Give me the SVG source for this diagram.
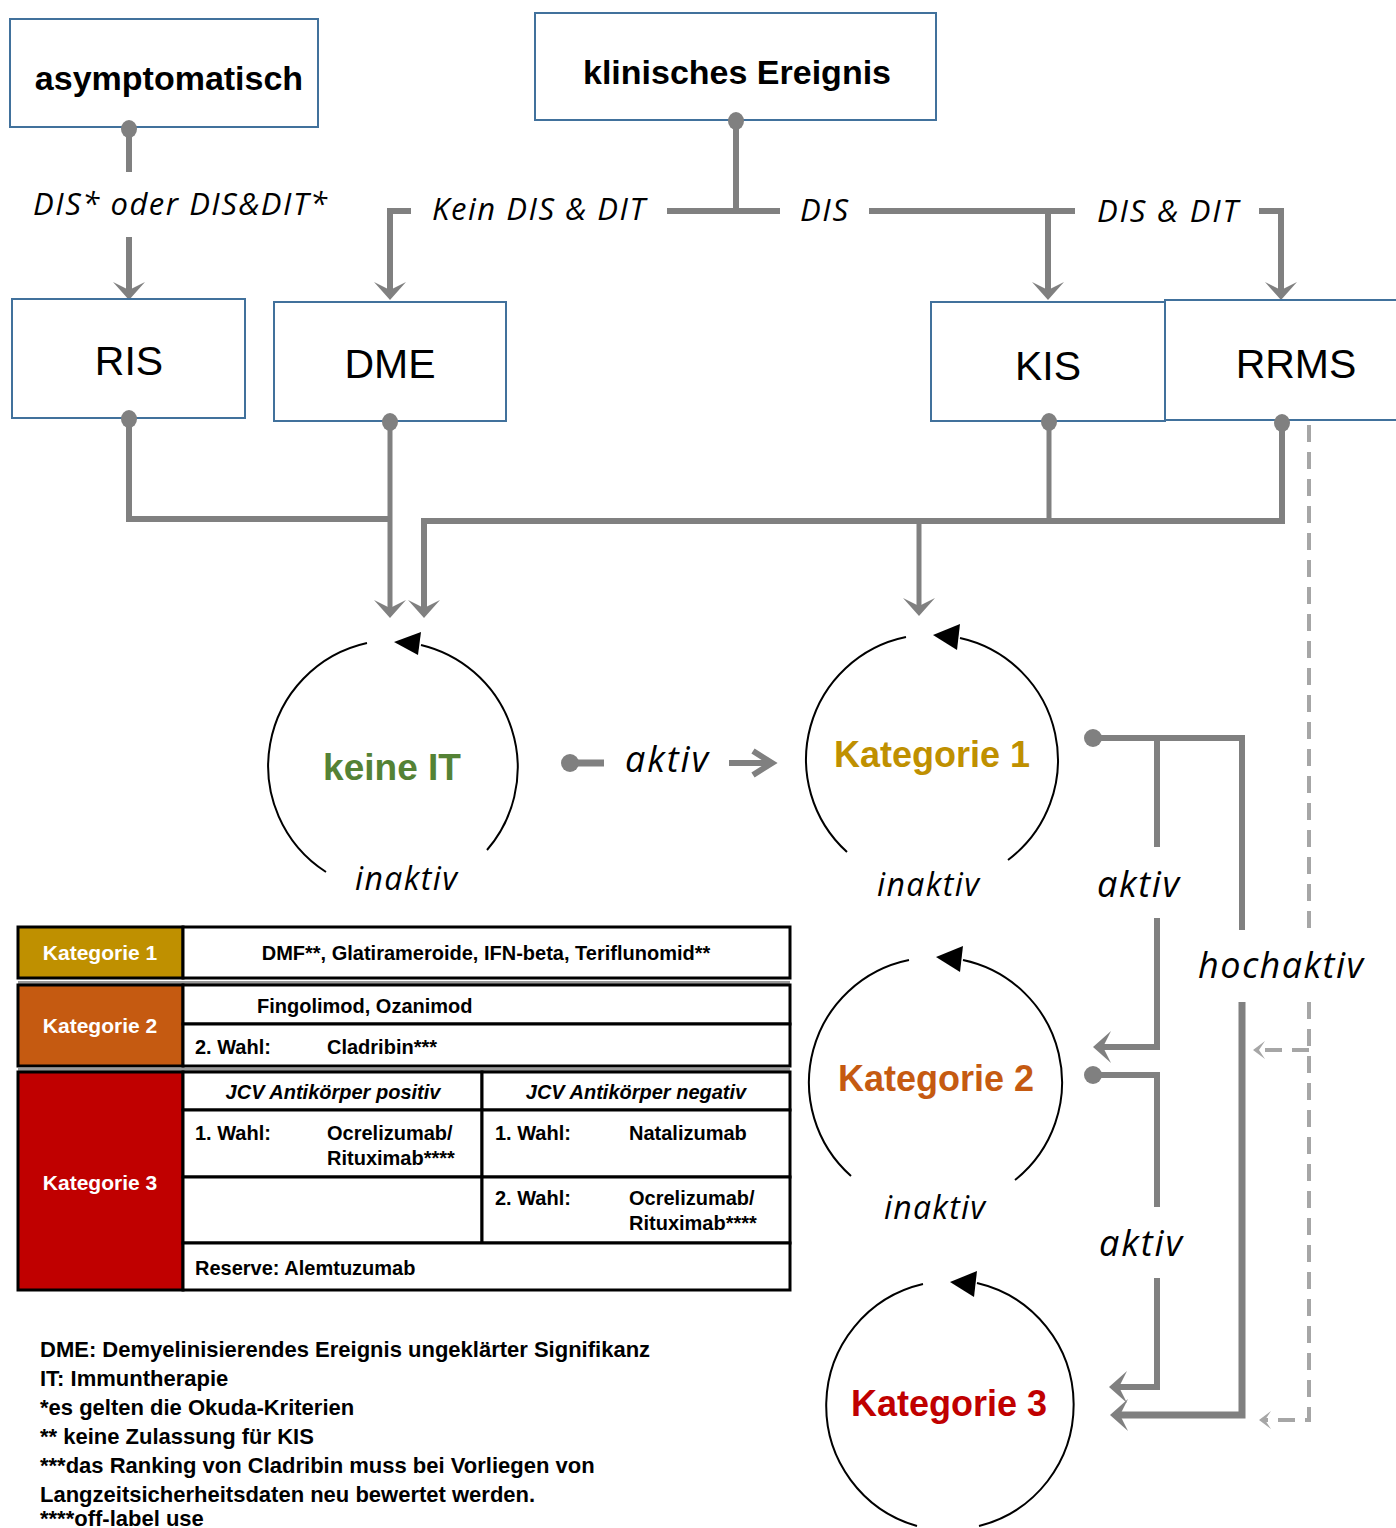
<svg xmlns="http://www.w3.org/2000/svg" width="1396" height="1528" viewBox="0 0 1396 1528">
<style>
.box{fill:#fff;stroke:#41719C;stroke-width:2}
.bt{font-family:"Liberation Sans",Arial,sans-serif;fill:#000}
.b{font-weight:bold}
.conn{fill:none;stroke:#808080;stroke-width:6;stroke-linejoin:miter}
.thin{stroke-width:5}
.dash{fill:none;stroke:#A6A6A6;stroke-width:4;stroke-dasharray:17 10}
.dot{fill:#808080}
.lbl{font-family:"Open Sans","Noto Sans",sans-serif;font-style:italic;fill:#000}
.loop{fill:none;stroke:#000;stroke-width:2}
.head{fill:#000}
.cat{font-family:"Liberation Sans",Arial,sans-serif;font-weight:bold;text-anchor:middle}
.tb{font-family:"Liberation Sans",Arial,sans-serif;font-weight:bold;font-size:20px;fill:#000}
.cell{fill:#fff;stroke:#000;stroke-width:3}
.lab{stroke:#000;stroke-width:3}
.lt{font-family:"Liberation Sans",Arial,sans-serif;font-weight:bold;font-size:21px;fill:#fff;text-anchor:middle}
.fn{font-family:"Liberation Sans",Arial,sans-serif;font-weight:bold;font-size:22px;fill:#000}
</style>
<defs>
<marker id="arr" markerUnits="userSpaceOnUse" viewBox="-10 -18 22 36" refX="0" refY="0" markerWidth="22" markerHeight="36" orient="auto">
<path d="M10,0 L-8,-16 L0,0 L-8,16 Z" fill="#808080"/>
</marker>
<marker id="arrL" markerUnits="userSpaceOnUse" viewBox="-8 -11 16 22" refX="0" refY="0" markerWidth="16" markerHeight="22" orient="auto">
<path d="M6,0 L-6,-9 L0,0 L-6,9 Z" fill="#A6A6A6"/>
</marker>
</defs>
<rect width="1396" height="1528" fill="#fff"/>

<g id="connectors">
<path class="conn" d="M129,129 V172"/>
<path class="conn" d="M129,237 V290" marker-end="url(#arr)"/>
<path class="conn" d="M411,211 H390 V290" marker-end="url(#arr)"/>
<path class="conn" d="M736,120 V211"/>
<path class="conn" d="M667,211 H780"/>
<path class="conn" d="M869,211 H1075"/>
<path class="conn" d="M1048,211 V290" marker-end="url(#arr)"/>
<path class="conn" d="M1259,211 H1281 V290" marker-end="url(#arr)"/>
<path class="conn" d="M129,418 V519 H390"/>
<path class="conn thin" d="M390,421 V608" marker-end="url(#arr)"/>
<path class="conn" d="M1282,423 V521 H424 V608" marker-end="url(#arr)"/>
<path class="conn thin" d="M1049,421 V521"/>
<path class="conn thin" d="M919,521 V606" marker-end="url(#arr)"/>
<circle class="dot" cx="570" cy="763" r="9"/>
<path class="conn" d="M570,763 H604" style="stroke-width:7"/>
<path class="conn" d="M729,763 H770"/>
<path class="conn" d="M753,751 L772,763 L753,775" style="stroke-width:6"/>
<circle class="dot" cx="1093" cy="738" r="9"/>
<path class="conn" d="M1093,738 H1242 V930"/>
<path class="conn" d="M1242,1002 V1415 H1120" style="stroke-width:7" marker-end="url(#arr)"/>
<path class="conn" d="M1157,738 V847"/>
<path class="conn" d="M1157,918 V1047 H1103" marker-end="url(#arr)"/>
<circle class="dot" cx="1093" cy="1075" r="9"/>
<path class="conn" d="M1093,1075 H1157 V1207"/>
<path class="conn" d="M1157,1278 V1387 H1119" marker-end="url(#arr)"/>
<path class="dash" d="M1309,425 V930"/>
<path class="dash" d="M1309,1002 V1420 H1265" marker-end="url(#arrL)"/>
<path class="dash" d="M1309,1050 H1259" marker-end="url(#arrL)"/>
<text class="lbl" x="33" y="215" font-size="31" textLength="294">DIS* oder DIS&amp;DIT*</text>
<text class="lbl" x="432" y="220" font-size="31" textLength="213">Kein DIS &amp; DIT</text>
<text class="lbl" x="800" y="221" font-size="31" textLength="48">DIS</text>
<text class="lbl" x="1097" y="222" font-size="31" textLength="141">DIS &amp; DIT</text>
<text class="lbl" x="625" y="772" font-size="36" textLength="83">aktiv</text>
<text class="lbl" x="1097" y="897" font-size="36" textLength="82">aktiv</text>
<text class="lbl" x="1198" y="978" font-size="36" textLength="165">hochaktiv</text>
<text class="lbl" x="1099" y="1256" font-size="36" textLength="83">aktiv</text>
</g>

<g id="asymptomatisch">
<rect class="box" x="10" y="19" width="308" height="108"/>
<text class="bt b" x="169" y="90" font-size="34" text-anchor="middle">asymptomatisch</text>
<ellipse class="dot" cx="129" cy="129" rx="8" ry="9"/>
</g>
<g id="klinisches-ereignis">
<rect class="box" x="535" y="13" width="401" height="107"/>
<text class="bt b" x="737" y="84" font-size="34" text-anchor="middle">klinisches Ereignis</text>
<ellipse class="dot" cx="736" cy="121" rx="8" ry="9"/>
</g>
<g id="RIS">
<rect class="box" x="12" y="299" width="233" height="119"/>
<text class="bt" x="129" y="375" font-size="41" text-anchor="middle">RIS</text>
<ellipse class="dot" cx="129" cy="419" rx="8" ry="9"/>
</g>
<g id="DME">
<rect class="box" x="274" y="302" width="232" height="119"/>
<text class="bt" x="390" y="378" font-size="41" text-anchor="middle">DME</text>
<ellipse class="dot" cx="390" cy="422" rx="8" ry="9"/>
</g>
<g id="KIS">
<rect class="box" x="931" y="302" width="234" height="119"/>
<text class="bt" x="1048" y="380" font-size="41" text-anchor="middle">KIS</text>
<ellipse class="dot" cx="1049" cy="422" rx="8" ry="9"/>
</g>
<g id="RRMS">
<rect class="box" x="1165" y="300" width="240" height="120"/>
<text class="bt" x="1296" y="378" font-size="41" text-anchor="middle">RRMS</text>
<ellipse class="dot" cx="1282" cy="423" rx="8" ry="9"/>
</g>

<g id="keine-IT">
<path class="loop" d="M367,643 A126,126 0 0 0 326,872"/>
<path class="loop" d="M487,850 A126,126 0 0 0 421,645"/>
<polygon class="head" points="394,642 421,632 418,655"/>
<text class="cat" x="392" y="780" font-size="37" fill="#548235">keine IT</text>
<text class="lbl" x="355" y="890" font-size="32" textLength="102">inaktiv</text>
</g>
<g id="kategorie-1">
<path class="loop" d="M906,637 A125,125 0 0 0 847,852"/>
<path class="loop" d="M1008,860 A125,125 0 0 0 960,638"/>
<polygon class="head" points="933,635 960,624 957,650"/>
<text class="cat" x="932" y="767" font-size="36" fill="#BF9000">Kategorie 1</text>
<text class="lbl" x="877" y="896" font-size="32" textLength="102">inaktiv</text>
</g>
<g id="kategorie-2">
<path class="loop" d="M909,960 A125,125 0 0 0 851,1176"/>
<path class="loop" d="M1015,1180 A125,125 0 0 0 963,960"/>
<polygon class="head" points="936,957 963,946 960,972"/>
<text class="cat" x="936" y="1091" font-size="36" fill="#C55A11">Kategorie 2</text>
<text class="lbl" x="884" y="1219" font-size="32" textLength="101">inaktiv</text>
</g>
<g id="kategorie-3">
<path class="loop" d="M923,1284 A125,125 0 0 0 917,1526"/>
<path class="loop" d="M979,1526 A125,125 0 0 0 977,1283"/>
<polygon class="head" points="950,1282 977,1271 974,1297"/>
<text class="cat" x="949" y="1416" font-size="36" fill="#C00000">Kategorie 3</text>
</g>

<g id="table">
<rect x="18" y="981" width="772" height="3" fill="#999"/>
<rect x="18" y="1068" width="772" height="3" fill="#999"/>
<rect class="lab" x="18" y="927" width="165" height="51" fill="#BF9000"/>
<rect class="cell" x="183" y="927" width="607" height="51"/>
<text class="lt" x="100" y="960">Kategorie 1</text>
<text class="tb" x="486" y="960" text-anchor="middle">DMF**, Glatirameroide, IFN-beta, Teriflunomid**</text>
<rect class="lab" x="18" y="985" width="165" height="81" fill="#C55A11"/>
<rect class="cell" x="183" y="985" width="607" height="39"/>
<rect class="cell" x="183" y="1024" width="607" height="42"/>
<text class="lt" x="100" y="1033">Kategorie 2</text>
<text class="tb" x="257" y="1013">Fingolimod, Ozanimod</text>
<text class="tb" x="195" y="1054">2. Wahl:</text>
<text class="tb" x="327" y="1054">Cladribin***</text>
<rect class="lab" x="18" y="1072" width="165" height="218" fill="#C00000"/>
<rect class="cell" x="183" y="1072" width="299" height="38"/>
<rect class="cell" x="482" y="1072" width="308" height="38"/>
<rect class="cell" x="183" y="1110" width="299" height="67"/>
<rect class="cell" x="482" y="1110" width="308" height="67"/>
<rect class="cell" x="183" y="1177" width="299" height="66"/>
<rect class="cell" x="482" y="1177" width="308" height="66"/>
<rect class="cell" x="183" y="1243" width="607" height="47"/>
<text class="lt" x="100" y="1190">Kategorie 3</text>
<text class="tb" x="333" y="1099" text-anchor="middle" font-style="italic">JCV Antikörper positiv</text>
<text class="tb" x="636" y="1099" text-anchor="middle" font-style="italic">JCV Antikörper negativ</text>
<text class="tb" x="195" y="1140">1. Wahl:</text>
<text class="tb" x="327" y="1140">Ocrelizumab/</text>
<text class="tb" x="327" y="1165">Rituximab****</text>
<text class="tb" x="495" y="1140">1. Wahl:</text>
<text class="tb" x="629" y="1140">Natalizumab</text>
<text class="tb" x="495" y="1205">2. Wahl:</text>
<text class="tb" x="629" y="1205">Ocrelizumab/</text>
<text class="tb" x="629" y="1230">Rituximab****</text>
<text class="tb" x="195" y="1275">Reserve: Alemtuzumab</text>
</g>

<g id="footnotes">
<text class="fn" x="40" y="1357">DME: Demyelinisierendes Ereignis ungeklärter Signifikanz</text>
<text class="fn" x="40" y="1386">IT: Immuntherapie</text>
<text class="fn" x="40" y="1415">*es gelten die Okuda-Kriterien</text>
<text class="fn" x="40" y="1444">** keine Zulassung für KIS</text>
<text class="fn" x="40" y="1473">***das Ranking  von Cladribin muss bei Vorliegen von</text>
<text class="fn" x="40" y="1502">Langzeitsicherheitsdaten neu  bewertet werden.</text>
<text class="fn" x="40" y="1526">****off-label use</text>
</g>
</svg>
